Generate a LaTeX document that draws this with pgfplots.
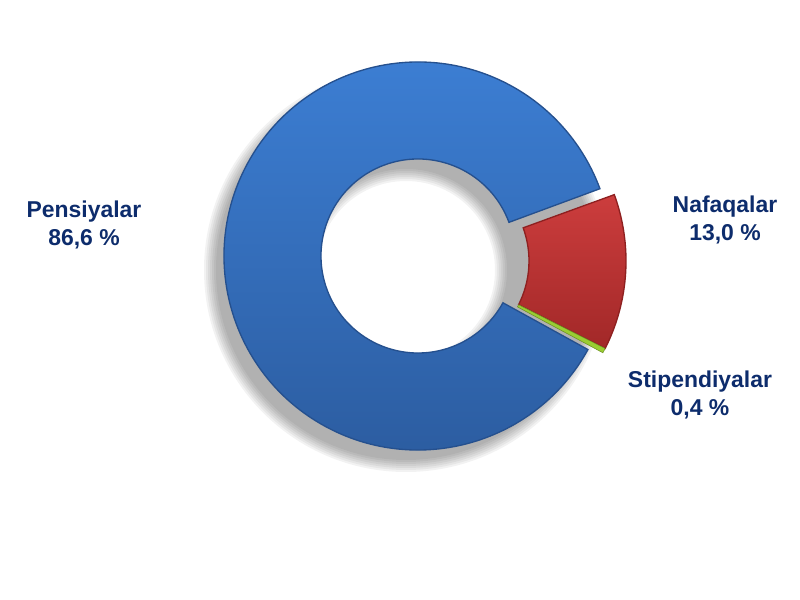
\documentclass[border=0pt]{standalone}
\usepackage{pgfplots}
\pgfplotsset{compat=1.18}
\usepackage{fontspec}
\setmainfont{Liberation Sans}
\definecolor{navy}{HTML}{0D2C6C}
\definecolor{blueT}{HTML}{3D80D6}
\definecolor{blueB}{HTML}{2B5B9E}
\definecolor{blueE}{HTML}{25508E}
\definecolor{redT}{HTML}{CC3D3D}
\definecolor{redB}{HTML}{A22828}
\definecolor{redE}{HTML}{8E2020}
\definecolor{grn}{HTML}{9ACD32}
% data (percent)
\def\vNaf{13.0}
\def\vSti{0.4}
\def\vPen{86.6}
% geometry (axis units = pixels)
\def\cx{418}\def\cy{344}\def\R{194}\def\r{97}
\pgfmathsetmacro\aS{20}
\pgfmathsetmacro\aA{\aS-3.6*\vNaf}
\pgfmathsetmacro\aB{\aA-3.6*\vSti}
\pgfmathsetmacro\aC{\aB-3.6*\vPen}
\def\ex{14}\def\ey{-5}
\newcommand\wedgepath[4]{(axis cs:{\cx+#3+\R*cos(#1)},{\cy+#4+\R*sin(#1)}) arc[start angle=#1,end angle=#2,radius=\R] -- (axis cs:{\cx+#3+\r*cos(#2)},{\cy+#4+\r*sin(#2)}) arc[start angle=#2,end angle=#1,radius=\r] -- cycle}
\begin{document}
\begin{tikzpicture}
\begin{axis}[scale only axis, width=600pt, height=450pt,
  xmin=0, xmax=800, ymin=0, ymax=600, hide axis, clip=false]
\path (axis cs:0,0) rectangle (axis cs:800,600);
% soft shadow
\pgfplotsinvokeforeach{-4,-2,0,2,4,6,8}{
  \fill[black, opacity=0.05, even odd rule]
    (axis cs:{\cx-12},{\cy-14}) circle[radius={\R+#1}]
    (axis cs:{\cx-12},{\cy-14}) circle[radius={\r-#1}];
}
% Pensiyalar
\path[top color=blueT, bottom color=blueB, draw=blueE, line width=1pt]
  \wedgepath{\aB-0.6}{\aC+0.3}{0}{0};
% Nafaqalar (exploded)
\path[top color=redT, bottom color=redB, draw=redE, line width=1pt]
  \wedgepath{\aS}{\aA}{\ex}{\ey};
% Stipendiyalar (exploded)
\path[fill=grn, draw=grn!70!black, line width=0.4pt]
  \wedgepath{\aA}{\aB}{\ex}{\ey};
% labels
\node[align=center, text=navy, font=\bfseries\fontsize{17.2}{21.5}\selectfont]
  at (axis cs:84,375) {Pensiyalar\\86,6 \%};
\node[align=center, text=navy, font=\bfseries\fontsize{17.2}{21.5}\selectfont]
  at (axis cs:725,380) {Nafaqalar\\13,0 \%};
\node[align=center, text=navy, font=\bfseries\fontsize{17.2}{21.5}\selectfont]
  at (axis cs:700,205) {Stipendiyalar\\0,4 \%};
\end{axis}
\end{tikzpicture}
\end{document}
